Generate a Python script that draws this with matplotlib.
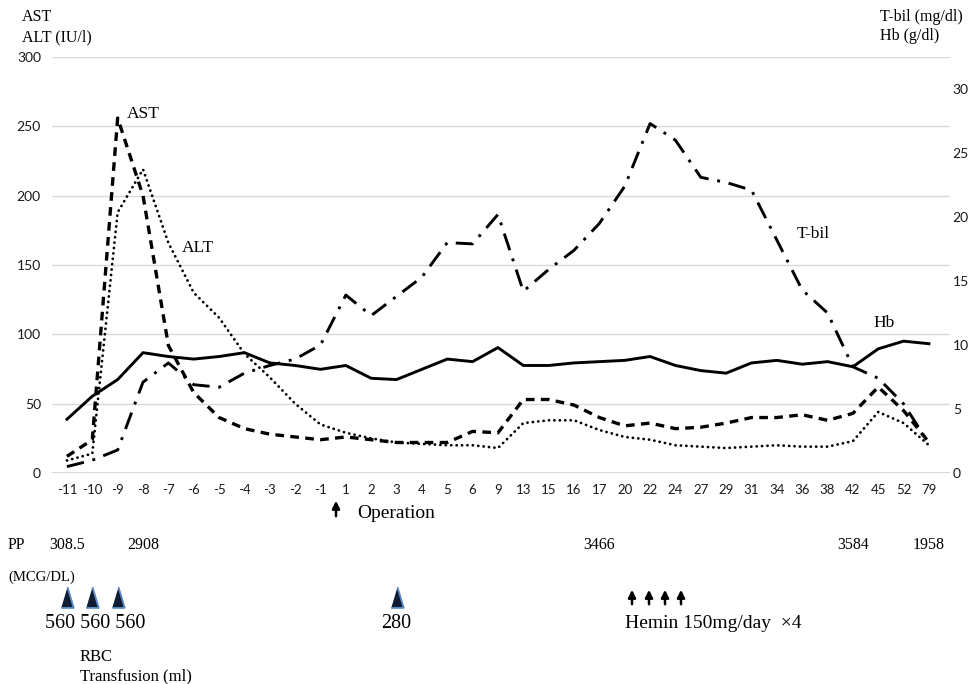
import matplotlib.pyplot as plt
import matplotlib.transforms as mtransforms

# 데이터
days = ['-11', '-10', '-9', '-8', '-7', '-6', '-5', '-4', '-3', '-2', '-1',
        '1', '2', '3', '4', '5', '6', '9', '13', '15', '16', '17', '20', '22',
        '24', '27', '29', '31', '34', '36', '38', '42', '45', '52', '79']
ast = [12, 24, 256, 200, 92, 58, 40, 32, 28, 26, 24,
       26, 24, 22, 22, 22, 30, 29, 53, 53, 49, 40, 34, 36,
       32, 33, 36, 40, 40, 42, 38, 43, 62, 45, 22]
alt = [9, 14, 188, 219, 166, 130, 112, 86, 69, 50, 35,
       29, 25, 22, 21, 20, 20, 18, 36, 38, 38, 31, 26, 24,
       20, 19, 18, 19, 20, 19, 19, 23, 44, 36, 20]
tbil = [0.5, 1.0, 1.8, 7.1, 8.6, 6.9, 6.7, 7.8, 8.4, 8.9, 10.0,
        13.9, 12.3, 13.8, 15.3, 18.0, 17.9, 20.2, 14.2, 15.9, 17.4, 19.5, 22.4, 27.3,
        26.0, 23.1, 22.7, 22.1, 18.2, 14.3, 12.5, 8.3, 7.4, 5.4, 2.3]
hb = [4.2, 6.0, 7.3, 9.4, 9.1, 8.9, 9.1, 9.4, 8.6, 8.4, 8.1,
      8.4, 7.4, 7.3, 8.1, 8.9, 8.7, 9.8, 8.4, 8.4, 8.6, 8.7, 8.8, 9.1,
      8.4, 8.0, 7.8, 8.6, 8.8, 8.5, 8.7, 8.3, 9.7, 10.3, 10.1]

# PP (MCG/DL) 값과 수혈 정보
pp_days = ['-11', '-8', '17', '42', '79']
pp_values = ['308.5', '2908', '3466', '3584', '1958']
rbc_days = ['-11', '-10', '-9', '3']

W, H = 968, 684
SERIF = 'Liberation Serif'
SANS = 'Lato'

fig = plt.figure(figsize=(W / 100, H / 100), dpi=100)
ax = fig.add_axes([52 / W, 1 - 473 / H, 898 / W, 416 / H])
ax2 = ax.twinx()

x = list(range(len(days)))

# 왼쪽 축: AST, ALT
ax.plot(x, ast, color='black', lw=2.4, linestyle=(0, (2.6, 1.9)), solid_capstyle='butt')
ax.plot(x, alt, color='black', lw=2.0, linestyle=(0, (0.05, 1.9)), dash_capstyle='round')
ax.set_ylim(0, 300)
ax.set_yticks(range(0, 301, 50))
ax.set_xlim(-0.59, 34.83)
ax.set_xticks(x)
ax.set_xticklabels(days)
ax.grid(axis='y', color='#d9d9d9', lw=1)
ax.axhline(0, color='#c8c8c8', lw=1.8, zorder=0)
ax.set_axisbelow(True)

# 오른쪽 축: T-bil, Hb
ax2.plot(x, tbil, color='black', lw=2.1, linestyle=(0, (6, 3, 1, 3)))
ax2.plot(x, hb, color='black', lw=2.1)
ax2.set_ylim(0, 32.5)
ax2.set_yticks(range(0, 31, 5))

for a in (ax, ax2):
    for s in a.spines.values():
        s.set_visible(False)
ax.tick_params(axis='y', length=0, pad=8, labelsize=10, labelcolor='#1a1a1a')
ax.tick_params(axis='x', length=0, pad=8, labelsize=9.5, labelcolor='#1a1a1a')
ax2.tick_params(axis='y', length=0, pad=2, labelsize=10, labelcolor='#1a1a1a')
for lab in ax.get_xticklabels() + ax.get_yticklabels() + ax2.get_yticklabels():
    lab.set_fontfamily(SANS)


def T(xp, yp, s, size=11, ha='left', **kw):
    fig.text(xp / W, 1 - yp / H, s, fontsize=size, ha=ha, va='center',
             fontfamily=SERIF, color='black', **kw)


def arrow(xp, y0, y1):
    ax.annotate('', xy=(xp, H - y1), xytext=(xp, H - y0), xycoords='figure pixels',
                textcoords='figure pixels',
                arrowprops=dict(arrowstyle='-|>', color='black', lw=1.8, mutation_scale=11))


# 축 제목
T(22, 17, 'AST', 11.5)
T(22, 37, 'ALT (IU/l)', 11.5)
T(880, 17, 'T-bil (mg/dl)', 11.5)
T(880, 36, 'Hb (g/dl)', 11.5)

# 선 이름
T(127, 114, 'AST', 12.5)
T(182, 248, 'ALT', 12.5)
T(797, 234, 'T-bil', 12.5)
T(873, 323, 'Hb', 12.5)

# 수술 표시
arrow(336, 519, 498)
T(357, 513, 'Operation', 14)

# PP 값
blend = mtransforms.blended_transform_factory(ax.transData, fig.transFigure)
T(8, 545, 'PP', 11.5)
for d, v in zip(pp_days, pp_values):
    fig.text(days.index(d), 1 - 545 / H, v, transform=blend, fontsize=11.5,
             ha='center', va='center', fontfamily=SERIF)
T(8, 577, '(MCG/DL)', 10.5)

# 수혈 (삼각형)
tri = [(-0.3, -0.5), (0.3, -0.5), (0, 0.5)]
for d in rbc_days:
    ax.plot([days.index(d)], [1 - 597 / H], transform=blend, marker=tri,
            markersize=15, markerfacecolor='#0f1c33', markeredgecolor='#5b8cc4',
            markeredgewidth=1.3, clip_on=False, linestyle='none')
T(45, 623, '560 560 560', 14.5)
fig.text(days.index('3'), 1 - 623 / H, '280', transform=blend, fontsize=14.5,
         ha='center', va='center', fontfamily=SERIF)
T(80, 657, 'RBC', 12)
T(80, 676, 'Transfusion (ml)', 12)

# Hemin
for xp in (632, 649, 665, 681):
    arrow(xp, 607, 587)
T(625, 623, 'Hemin 150mg/day  ×4', 14)

plt.savefig('out.png', dpi=100)
